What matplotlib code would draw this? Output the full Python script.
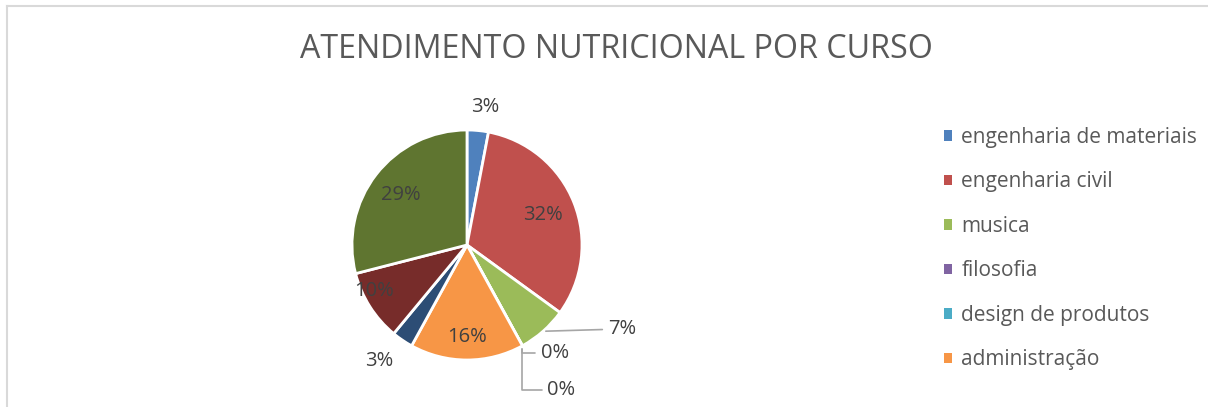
import numpy as np
import matplotlib.pyplot as plt
from matplotlib.patches import Patch
from matplotlib.lines import Line2D

# Dados (leitura do gráfico)
cursos = ['engenharia de materiais', 'engenharia civil', 'musica', 'filosofia',
          'design de produtos', 'administração', 'curso 7', 'curso 8', 'curso 9']
percentuais = [3, 32, 7, 0, 0, 16, 3, 10, 29]
cores = ['#4F81BD', '#C0504D', '#9BBB59', '#8064A2', '#4BACC6', '#F79646',
         '#2C4D75', '#772C2A', '#5F7530']
n_legenda = 6  # só as 6 primeiras aparecem na legenda

plt.rcParams['font.family'] = ['Open Sans', 'DejaVu Sans']

W, H = 1208, 407
fig = plt.figure(figsize=(W / 100, H / 100), dpi=100)
ax = fig.add_axes([0, 0, 1, 1])

# centro e raio da pizza em pixels (y de baixo para cima)
cx, cy, R = 467, H - 245, 115
wedges, _ = ax.pie(percentuais, colors=cores, startangle=90, counterclock=False,
                   center=(cx, cy), radius=R,
                   wedgeprops=dict(edgecolor='white', linewidth=2))
ax.set_xlim(0, W)
ax.set_ylim(0, H)
ax.set_aspect('equal')
ax.axis('off')

txt_cor = '#404040'
lead_cor = '#A6A6A6'
# distância do rótulo (em raios) e ajuste angular, por fatia
label_r = [1.21, 0.71, None, None, None, 0.8, 1.27, 0.9, 0.72]
label_da = [-2, 0, 0, 0, 0, 0, -3, -6, 1]
for w, p, r, da in zip(wedges, percentuais, label_r, label_da):
    if r is None:
        continue
    ang = np.deg2rad((w.theta1 + w.theta2) / 2 + da)
    ax.text(cx + r * R * np.cos(ang), cy + r * R * np.sin(ang), f'{p}%',
            ha='center', va='center', fontsize=14.5, color=txt_cor)

# rótulos com linha de chamada (7%, 0%, 0%)
chamadas = [(2, (1.225, -0.73), 'arc3'), (3, (0.64, -0.94), 'angle,angleA=0,angleB=90'),
            (4, (0.70, -1.26), 'angle,angleA=0,angleB=90')]
for i, (dx, dy), cs in chamadas:
    w = wedges[i]
    ang = np.deg2rad((w.theta1 + w.theta2) / 2)
    xy = (cx + R * np.cos(ang), cy + R * np.sin(ang))
    ax.annotate(f'{percentuais[i]}%', xy=xy, xytext=(cx + dx * R, cy + dy * R),
                ha='left', va='center', fontsize=14.5, color=txt_cor,
                arrowprops=dict(arrowstyle='-', color=lead_cor, lw=1.2,
                                shrinkA=2, shrinkB=2, connectionstyle=cs))

fig.text(0.5 * (298 + 935) / W, 1 - 50 / H, 'ATENDIMENTO NUTRICIONAL POR CURSO',
         ha='center', va='center', fontsize=23.2, color='#595959')

handles = [Patch(facecolor=c, edgecolor='none') for c in cores[:n_legenda]]
leg = fig.legend(handles, cursos[:n_legenda], loc='upper left',
                 bbox_to_anchor=(925 / W, 1 - 108 / H), frameon=False,
                 fontsize=15, handlelength=0.4, handleheight=0.4,
                 handletextpad=0.45, labelspacing=1.13, labelcolor='#595959')

# moldura do gráfico
fig.add_artist(Line2D([7 / W, 1], [1 - 6 / H] * 2, color='#D9D9D9', lw=1.5,
                      transform=fig.transFigure))
fig.add_artist(Line2D([7 / W] * 2, [0, 1 - 6 / H], color='#D9D9D9', lw=1.5,
                      transform=fig.transFigure))

fig.savefig('out.png', dpi=100, facecolor='white')
